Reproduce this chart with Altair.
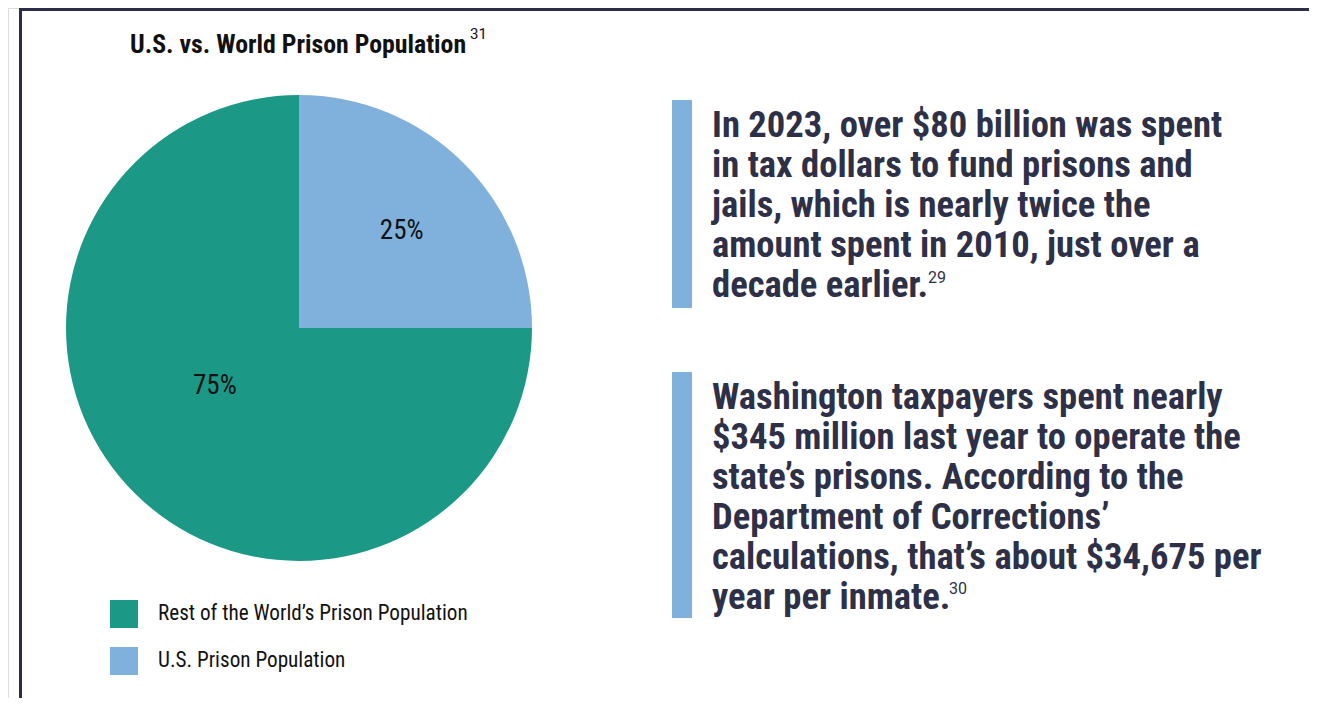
import altair as alt
import pandas as pd

# ---- data ----
categories = ["U.S. Prison Population", "Rest of the World’s Prison Population"]
shares = [25, 75]
share_labels = ["25%", "75%"]
legend_order = ["Rest of the World’s Prison Population", "U.S. Prison Population"]
legend_colors = ["#1c9887", "#7fb1dc"]

title_text = "U.S. vs. World Prison Population"
title_note = "31"

block1_lines = [
    "In 2023, over $80 billion was spent",
    "in tax dollars to fund prisons and",
    "jails, which is nearly twice the",
    "amount spent in 2010, just over a",
    "decade earlier.",
]
block1_note = "29"

block2_lines = [
    "Washington taxpayers spent nearly",
    "$345 million last year to operate the",
    "state’s prisons. According to the",
    "Department of Corrections’",
    "calculations, that’s about $34,675 per",
    "year per inmate.",
]
block2_note = "30"

# ---- styles ----
FONT = "Roboto Condensed, Liberation Sans Narrow, Roboto, sans-serif"
SUPFONT = "Roboto, sans-serif"
NAVY = "#2e3048"
BORDER = "#2d2e46"
BAR = "#7fb1dc"

W, H = 1301, 690
CX, CY, R = 291, 320, 233

pie_df = pd.DataFrame({
    "category": categories,
    "share": shares,
    "label": share_labels,
    "idx": list(range(len(categories))),
})
one = pd.DataFrame({"a": [0]})

color = alt.Color(
    "category:N",
    scale=alt.Scale(domain=legend_order, range=legend_colors),
    legend=alt.Legend(
        orient="none", legendX=102, legendY=592, title=None,
        symbolType="square", symbolSize=784, symbolStrokeWidth=0,
        symbolOpacity=1,
        labelFontSize=21.2, labelFont=FONT, labelColor="#111111",
        labelOffset=20, rowPadding=19, padding=0, labelLimit=600,
    ),
)

pie = alt.Chart(pie_df).mark_arc(radius=R, stroke=None).encode(
    theta=alt.Theta("share:Q", stack=True),
    color=color,
    order=alt.Order("idx:Q"),
    x=alt.value(CX), y=alt.value(CY),
)

def pie_label(which, radius, dx, dy):
    return alt.Chart(pie_df).mark_text(
        radius=radius, font=FONT, fontSize=27, color="#111111", dx=dx, dy=dy,
        align="center", baseline="middle",
    ).encode(
        theta=alt.Theta("share:Q", stack=True),
        order=alt.Order("idx:Q"),
        text=alt.condition(alt.datum.label == which, "label:N", alt.value("")),
        x=alt.value(CX), y=alt.value(CY),
    )

lab25 = pie_label(share_labels[0], 141, 3, 3)
lab75 = pie_label(share_labels[1], 102, -12, -14)

title = alt.Chart(one).mark_text(
    font=FONT, fontSize=25.8, fontWeight="bold", color="#111111",
    align="center", baseline="alphabetic",
).encode(x=alt.value(290), y=alt.value(45), text=alt.value(title_text))

title_sup = alt.Chart(one).mark_text(
    font=SUPFONT, fontSize=15, color="#111111", align="left", baseline="alphabetic",
).encode(x=alt.value(462), y=alt.value(31), text=alt.value(title_note))

border_top = alt.Chart(one).mark_rule(color=BORDER, strokeWidth=3).encode(
    x=alt.value(11), x2=alt.value(W), y=alt.value(1.5))
border_left = alt.Chart(one).mark_rule(color=BORDER, strokeWidth=3).encode(
    x=alt.value(12.5), y=alt.value(0), y2=alt.value(H))

bar1 = alt.Chart(one).mark_rect(color=BAR).encode(
    x=alt.value(664), x2=alt.value(684), y=alt.value(92), y2=alt.value(300))
bar2 = alt.Chart(one).mark_rect(color=BAR).encode(
    x=alt.value(664), x2=alt.value(684), y=alt.value(364), y2=alt.value(610))

def block(lines, y):
    return alt.Chart(one).mark_text(
        font=FONT, fontSize=36.6, fontWeight="bold", color=NAVY,
        align="left", baseline="alphabetic", lineBreak="\n", lineHeight=40,
    ).encode(x=alt.value(704), y=alt.value(y), text=alt.value("\n".join(lines)))

def sup(t, x, y):
    return alt.Chart(one).mark_text(
        font=SUPFONT, fontSize=16, color=NAVY, align="left", baseline="alphabetic",
    ).encode(x=alt.value(x), y=alt.value(y), text=alt.value(t))

txt1 = block(block1_lines, 129)
txt2 = block(block2_lines, 401)
sup1 = sup(block1_note, 920, 275)
sup2 = sup(block2_note, 941, 586)

chart = alt.layer(
    border_top, border_left, pie, lab25, lab75, title, title_sup,
    bar1, bar2, txt1, txt2, sup1, sup2,
).properties(
    width=W, height=H, padding=0,
    autosize=alt.AutoSizeParams(type="none"),
).configure_view(stroke=None).configure(background="white")

chart.save("out.html", embed_options={"renderer": "svg", "actions": False})
